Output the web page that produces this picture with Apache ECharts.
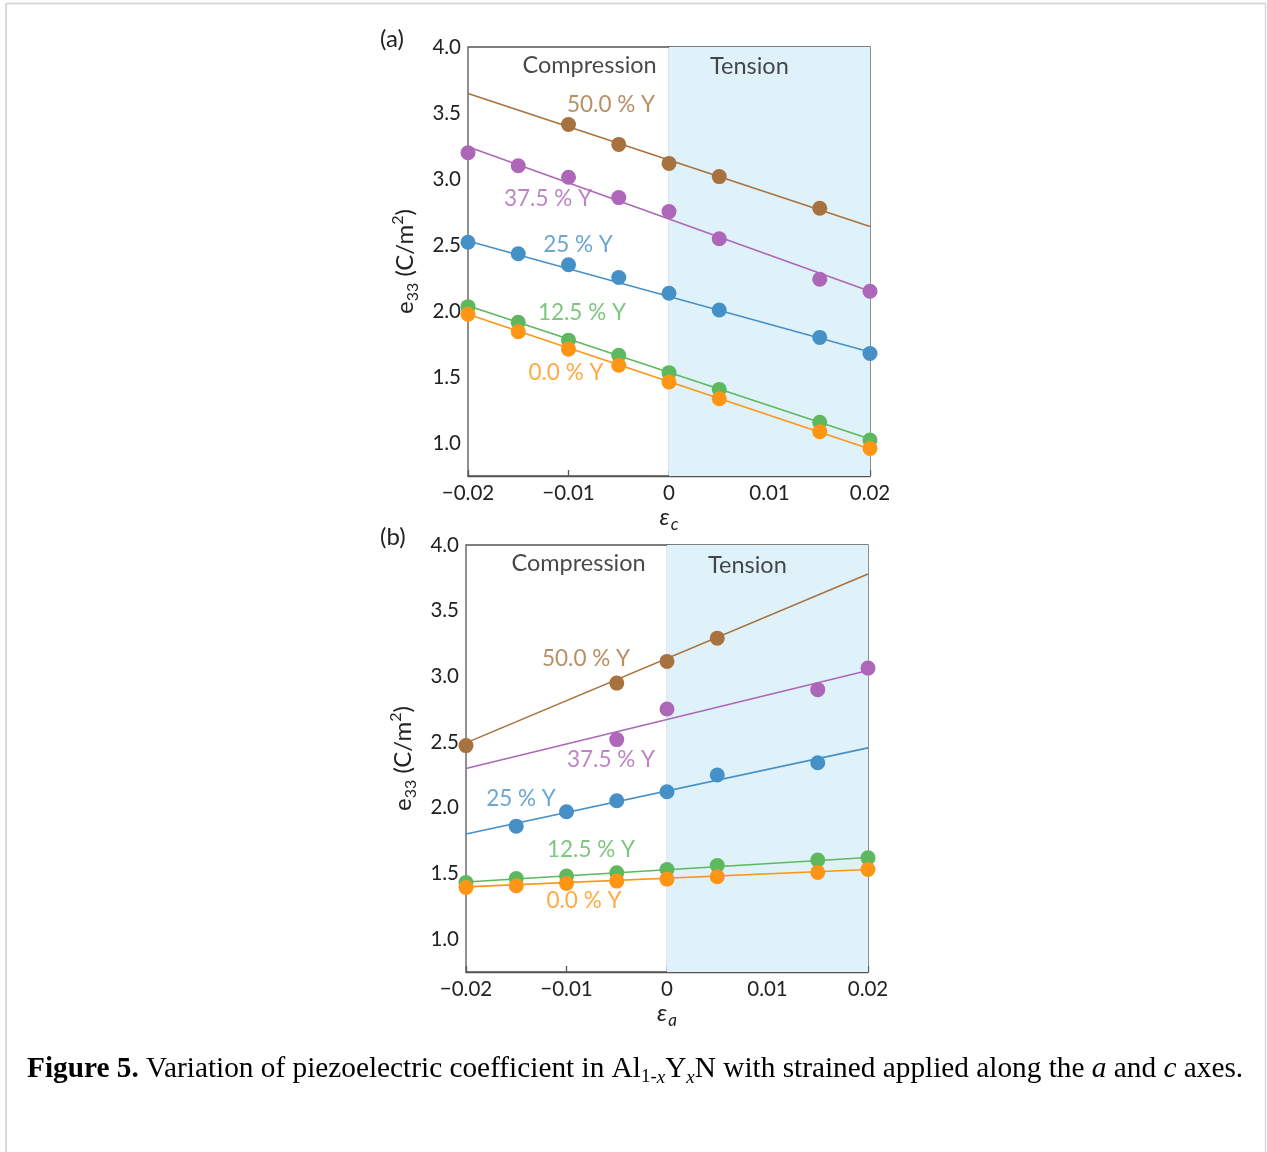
<!DOCTYPE html>
<html>
<head>
<meta charset="utf-8">
<script src="https://cdn.jsdelivr.net/npm/echarts@6/dist/echarts.min.js"></script>
<style>
html,body{margin:0;padding:0;background:#fff;}
#chart{width:1267px;height:1152px;}
</style>
</head>
<body>
<div id="chart"></div>
<script>
// ---------- DATA ----------
const strainX = [-0.02, -0.015, -0.01, -0.005, 0, 0.005, 0.015, 0.02];
const seriesNames = ['50.0 % Y', '37.5 % Y', '25 % Y', '12.5 % Y', '0.0 % Y'];
const seriesColors = ['#A8723E', '#AD66B8', '#4690C8', '#5DB85E', '#FF9514'];

// Panel (a): strain along c (null = no point)
const a_y50  = [null, null, 3.413, 3.262, 3.118, 3.018, 2.778, null];
const a_y375 = [3.199, 3.100, 3.013, 2.859, 2.753, 2.547, 2.241, 2.150];
const a_y25  = [2.521, 2.434, 2.350, 2.254, 2.135, 2.008, 1.800, 1.678];
const a_y125 = [2.033, 1.914, 1.779, 1.665, 1.533, 1.406, 1.157, 1.023];
const a_y0   = [1.975, 1.843, 1.711, 1.589, 1.462, 1.335, 1.086, 0.959];
// fitted lines: values at x = -0.02 and x = 0.02
const a_fitStart = [3.647, 3.244, 2.530, 2.040, 1.975];
const a_fitEnd   = [2.640, 2.150, 1.690, 1.030, 0.955];

// Panel (b): strain along a
const b_y50  = [2.473, null, null, 2.949, 3.114, 3.291, null, null];
const b_y375 = [null, null, null, 2.519, 2.752, null, 2.899, 3.063];
const b_y25  = [null, 1.860, 1.970, 2.053, 2.122, 2.249, 2.343, null];
const b_y125 = [1.431, 1.462, 1.480, 1.505, 1.530, 1.561, 1.602, 1.619];
const b_y0   = [1.393, 1.406, 1.424, 1.442, 1.457, 1.475, 1.508, 1.530];
const b_fitStart = [2.494, 2.299, 1.800, 1.435, 1.398];
const b_fitEnd   = [3.780, 3.045, 2.456, 1.622, 1.530];

// series label anchors (data coords)
const a_labelPos = [[-0.00577, 3.565], [-0.01204, 2.852], [-0.00905, 2.503], [-0.00866, 1.987], [-0.01025, 1.532]];
const b_labelPos = [[-0.00806, 3.132], [-0.00557, 2.362], [-0.01453, 2.065], [-0.00756, 1.677], [-0.00826, 1.289]];
const regionNames = ['Compression', 'Tension'];
const a_regionPos = [[-0.0079, 3.86], [0.008, 3.855]];
const b_regionPos = [[-0.0088, 3.86], [0.008, 3.845]];

const xTicks = [-0.02, -0.01, 0, 0.01, 0.02];
const yTicks = [1.0, 1.5, 2.0, 2.5, 3.0, 3.5, 4.0];
const yMin = 0.75, yMax = 4.0;
const xMin = -0.02, xMax = 0.02;
const tensionRange = [0, 0.02];

// ---------- OPTION ----------
const FONT = 'Lato';
const axisColor = '#555';
const txt = '#222';

function fmtX(v) {
  if (Math.abs(v) < 1e-9) return '0';
  return (v < 0 ? '\u2212' : '') + Math.abs(v).toFixed(2);
}

function makeXAxis(gi, sub) {
  return {
    type: 'value', gridIndex: gi, min: xMin, max: xMax, interval: 0.01,
    axisLine: { lineStyle: { color: axisColor, width: 1.3 } },
    axisTick: { inside: true, length: 6, lineStyle: { color: axisColor, width: 1.3 } },
    axisLabel: { formatter: fmtX, fontFamily: FONT, fontSize: 20.5, color: txt, margin: 7 },
    splitLine: { show: false },
    name: '{e|\u03b5}{s|' + sub + '}',
    nameLocation: 'middle', nameGap: 28,
    nameTextStyle: {
      rich: {
        e: { fontFamily: FONT, fontStyle: 'italic', fontSize: 24, color: txt, lineHeight: 26 },
        s: { fontFamily: FONT, fontStyle: 'italic', fontSize: 17, color: txt, lineHeight: 26, verticalAlign: 'bottom', padding: [0, 0, -3, 1] }
      }
    }
  };
}

function makeYAxis(gi) {
  return {
    type: 'value', gridIndex: gi, min: yMin, max: yMax,
    axisLine: { lineStyle: { color: axisColor, width: 1.3 } },
    axisTick: { inside: true, length: 6, customValues: yTicks, lineStyle: { color: axisColor, width: 1.3 } },
    axisLabel: { customValues: yTicks, formatter: v => v.toFixed(1), fontFamily: FONT, fontSize: 20.5, color: txt, margin: 7 },
    splitLine: { show: false },
    name: '{e|e}{s|33}{n| (C/m}{p|2}{n|)}',
    nameLocation: 'middle', nameGap: 49, nameRotate: 90,
    nameTextStyle: {
      rich: {
        e: { fontFamily: FONT, fontSize: 24, color: txt, lineHeight: 28 },
        s: { fontFamily: FONT, fontSize: 16, color: txt, lineHeight: 28, verticalAlign: 'bottom', padding: [0, 0, -2, 0] },
        n: { fontFamily: FONT, fontSize: 24, color: txt, lineHeight: 28 },
        p: { fontFamily: FONT, fontSize: 16, color: txt, lineHeight: 28, verticalAlign: 'top', padding: [-1, 0, 0, 0] }
      }
    }
  };
}

function buildSeries(gi, ys, fitStart, fitEnd, labelPos, regionPos) {
  const out = [];
  out.push({
    type: 'line', xAxisIndex: gi, yAxisIndex: gi, data: [], silent: true, z: 0,
    markArea: {
      silent: true,
      itemStyle: { color: '#DFF2FA' },
      data: [[{ xAxis: tensionRange[0] }, { xAxis: tensionRange[1] }]]
    }
  });
  ys.forEach((arr, i) => {
    out.push({
      type: 'line', xAxisIndex: gi, yAxisIndex: gi, showSymbol: false, symbol: 'none',
      lineStyle: { color: seriesColors[i], width: 1.6 }, z: 2, silent: true,
      data: [[xMin, fitStart[i]], [xMax, fitEnd[i]]]
    });
    out.push({
      type: 'scatter', xAxisIndex: gi, yAxisIndex: gi, symbolSize: 15, z: 3,
      itemStyle: { color: seriesColors[i], opacity: 1 },
      data: strainX.map((x, k) => arr[k] == null ? null : [x, arr[k]]).filter(d => d)
    });
  });
  out.push({
    type: 'scatter', xAxisIndex: gi, yAxisIndex: gi, symbolSize: 1, z: 4, silent: true,
    itemStyle: { color: 'transparent' },
    label: { show: true, position: 'inside', formatter: p => p.name, fontFamily: FONT, fontSize: 22.5 },
    data: labelPos.map((p, i) => ({ name: seriesNames[i], value: p, label: { color: seriesColors[i] } }))
  });
  out.push({
    type: 'scatter', xAxisIndex: gi, yAxisIndex: gi, symbolSize: 1, z: 4, silent: true,
    itemStyle: { color: 'transparent' },
    label: { show: true, position: 'inside', formatter: p => p.name, fontFamily: FONT, fontSize: 23.5, color: '#1a1a1a' },
    data: regionPos.map((p, i) => ({ name: regionNames[i], value: p }))
  });
  return out;
}

const chart = echarts.init(document.getElementById('chart'), null, { renderer: 'canvas' });
const option = {
  animation: false,
  backgroundColor: '#fff',
  grid: [
    { left: 468, width: 402, top: 47, height: 429, show: true, borderColor: axisColor, borderWidth: 1.3, backgroundColor: 'transparent' },
    { left: 466, width: 402, top: 545, height: 427, show: true, borderColor: axisColor, borderWidth: 1.3, backgroundColor: 'transparent' }
  ],
  xAxis: [makeXAxis(0, 'c'), makeXAxis(1, 'a')],
  yAxis: [makeYAxis(0), makeYAxis(1)],
  series: [
    ...buildSeries(0, [a_y50, a_y375, a_y25, a_y125, a_y0], a_fitStart, a_fitEnd, a_labelPos, a_regionPos),
    ...buildSeries(1, [b_y50, b_y375, b_y25, b_y125, b_y0], b_fitStart, b_fitEnd, b_labelPos, b_regionPos)
  ],
  graphic: [
    { type: 'line', shape: { x1: 6, y1: 3.5, x2: 6, y2: 1152 }, style: { stroke: '#d9d9d9', lineWidth: 2 } },
    { type: 'line', shape: { x1: 6, y1: 3.5, x2: 1266, y2: 3.5 }, style: { stroke: '#d9d9d9', lineWidth: 2 } },
    { type: 'line', shape: { x1: 1265.5, y1: 3.5, x2: 1265.5, y2: 1152 }, style: { stroke: '#d9d9d9', lineWidth: 1.5 } },
    { type: 'text', left: 380, top: 27, style: { text: '(a)', font: '24px Lato', fill: txt } },
    { type: 'text', left: 380, top: 525, style: { text: '(b)', font: '24px Lato', fill: txt } },
    {
      type: 'text', left: 27, top: 1055,
      style: {
        text: '{b|Figure 5.}{n| Variation of piezoelectric coefficient in Al}{s|1-}{si|x}{n|Y}{si|x}{n|N with strained applied along the }{i|a}{n| and }{i|c}{n| axes.}',
        fill: '#000',
        rich: {
          n: { fontFamily: 'Liberation Serif', fontSize: 29.3, lineHeight: 34, verticalAlign: 'bottom' },
          b: { fontFamily: 'Liberation Serif', fontWeight: 'bold', fontSize: 29.3, lineHeight: 34, verticalAlign: 'bottom' },
          i: { fontFamily: 'Liberation Serif', fontStyle: 'italic', fontSize: 29.3, lineHeight: 34, verticalAlign: 'bottom' },
          s: { fontFamily: 'Liberation Serif', fontSize: 19, lineHeight: 34, verticalAlign: 'bottom', padding: [0, 0, -3, 0] },
          si: { fontFamily: 'Liberation Serif', fontStyle: 'italic', fontSize: 19, lineHeight: 34, verticalAlign: 'bottom', padding: [0, 0, -3, 0] }
        }
      }
    }
  ]
};
chart.setOption(option);
</script>
</body>
</html>
